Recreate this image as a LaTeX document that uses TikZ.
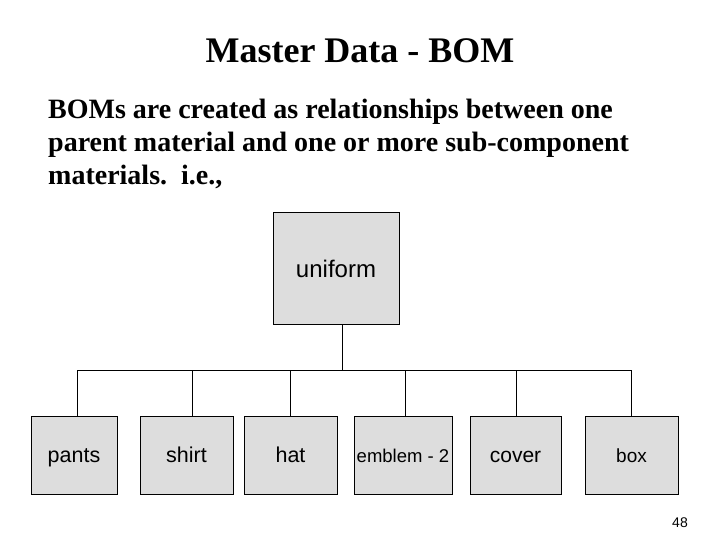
\documentclass[tikz,border=0pt]{standalone}
\usepackage{fontspec}
\setmainfont{Liberation Serif}
\newfontfamily\arialfont{Liberation Sans}
\begin{document}
\begin{tikzpicture}[x=1pt,y=-1pt,
  part/.style={draw=black,fill=boxgray,line width=1pt,rectangle,inner sep=0pt,
    minimum height=78pt,text height=17pt,text depth=2pt,font=\arialfont\fontsize{21.5}{24}\selectfont},
  link/.style={draw=black,line width=1pt}]
\definecolor{boxgray}{HTML}{DDDDDD}
\useasboundingbox[fill=white] (0,0) rectangle (720,540);
\node[anchor=base,font=\bfseries\fontsize{36}{40}\selectfont] (title) at (360,63) {Master Data - BOM};
\node[anchor=base west,inner sep=0pt,font=\bfseries\fontsize{28}{33}\selectfont] (l1) at (48,119) {BOMs are created as relationships between one};
\node[anchor=base west,inner sep=0pt,font=\bfseries\fontsize{28}{33}\selectfont] (l2) at (48,152) {parent material and one or more sub-component};
\node[anchor=base west,inner sep=0pt,font=\bfseries\fontsize{28}{33}\selectfont] (l3) at (48,185) {materials.\ \ i.e.,};
\node[part,minimum width=126pt,minimum height=111pt,text height=19pt,font=\arialfont\fontsize{24}{28}\selectfont] (uniform) at (336,268.5) {uniform};
\node[part,minimum width=86pt] (pants) at (74,455) {pants};
\node[part,minimum width=93pt] (shirt) at (186.5,455) {shirt};
\node[part,minimum width=93pt] (hat) at (290.5,455) {hat};
\node[part,minimum width=98pt,font=\arialfont\fontsize{18.5}{22}\selectfont] (emblem) at (403,455) {emblem - 2};
\node[part,minimum width=91pt,font=\arialfont\fontsize{21}{24}\selectfont] (cover) at (515.5,455) {cover};
\node[part,minimum width=93pt,font=\arialfont\fontsize{19}{22}\selectfont] (box) at (631.5,455) {box};
\coordinate (bus) at (342,370);
\coordinate (b1) at (77,370);
\coordinate (b2) at (192,370);
\coordinate (b3) at (290,370);
\coordinate (b4) at (405,370);
\coordinate (b5) at (516,370);
\coordinate (b6) at (631.5,370);
\draw[link] (uniform.south -| bus) -- (bus);
\draw[link] (b1) -- (b6);
\draw[link] (b1) -- (pants.north -| b1);
\draw[link] (b2) -- (shirt.north -| b2);
\draw[link] (b3) -- (hat.north -| b3);
\draw[link] (b4) -- (emblem.north -| b4);
\draw[link] (b5) -- (cover.north -| b5);
\draw[link] (b6) -- (box.north -| b6);
\node[font=\arialfont\fontsize{14}{16}\selectfont] (pg) at (680,523) {48};
\end{tikzpicture}
\end{document}
